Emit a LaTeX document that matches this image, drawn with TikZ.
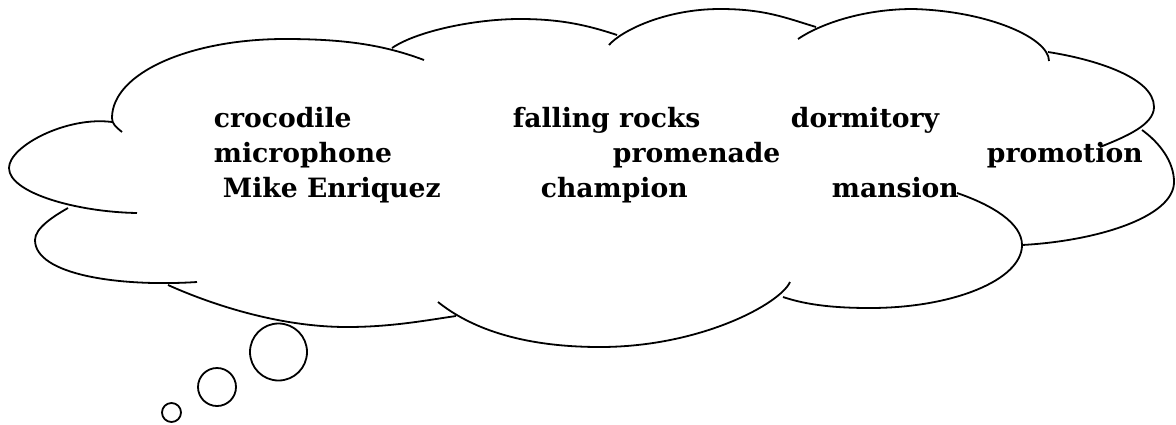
\documentclass[tikz,border=0pt]{standalone}
\usepackage{fontspec}
\setmainfont{DejaVu Serif}
\begin{document}
\begin{tikzpicture}[x=0.5pt, y=-0.5pt, line width=0.9pt]
	\tikzstyle{mot} = [anchor=base west, inner sep=0pt, font=\fontsize{13.3}{16}\selectfont\bfseries]
	\tikzstyle{bulle} = [draw, circle, inner sep=0pt]
	\useasboundingbox (0,0) rectangle (1176,424);
	% nuage, lobe par lobe (sens horaire depuis la gauche)
	\draw (122,132) .. controls (116,127) and (112,124) .. (112,118)
		.. controls (112,73) and (190,39) .. (285,39)
		.. controls (345,39) and (384,45) .. (424,60);
	\draw (392,48) .. controls (417,31) and (475,19) .. (520,19)
		.. controls (560,19) and (587,25) .. (617,35);
	\draw (609,45) .. controls (621,31) and (665,9) .. (720,9)
		.. controls (765,9) and (786,18) .. (816,27);
	\draw (798,39) .. controls (820,24) and (863,9) .. (913,9)
		.. controls (988,11) and (1049,38) .. (1049,61);
	\draw (1048,52) .. controls (1093,59) and (1154,77) .. (1154,107)
		.. controls (1154,125) and (1125,137) .. (1100,147);
	\draw (1142,130) .. controls (1160,143) and (1174,162) .. (1174,182)
		.. controls (1174,217) and (1097,241) .. (1022,245);
	\draw (957,193) .. controls (992,205) and (1022,223) .. (1022,245)
		.. controls (1022,280) and (953,308) .. (870,308)
		.. controls (825,308) and (801,303) .. (783,297);
	\draw (790,282) .. controls (780,304) and (700,347) .. (600,347)
		.. controls (510,347) and (463,322) .. (438,302);
	\draw (456,316) .. controls (428,320) and (392,327) .. (347,327)
		.. controls (277,327) and (208,303) .. (168,285);
	\draw (197,282) .. controls (120,287) and (35,275) .. (35,240)
		.. controls (35,228) and (54,216) .. (68,208);
	\draw (137,213) .. controls (77,212) and (9,193) .. (9,168)
		.. controls (9,146) and (67,116) .. (112,122);
	% bulles
	\node[bulle, minimum size=28.5pt] (b1) at (278.5,352) {};
	\node[bulle, minimum size=19pt] (b2) at (217,387) {};
	\node[bulle, minimum size=9.5pt] (b3) at (171.5,412.5) {};
	% mots
	\node[mot] (croc) at (213,127) {crocodile};
	\node[mot] (chute) at (512,127) {falling rocks};
	\node[mot] (dortoir) at (790,127) {dormitory};
	\node[mot] (micro) at (213,162) {microphone};
	\node[mot] (prom) at (612,162) {promenade};
	\node[mot] (promo) at (986,162) {promotion};
	\node[mot] (mike) at (222,197) {Mike Enriquez};
	\node[mot] (champ) at (540,197) {champion};
	\node[mot] (manoir) at (831,197) {mansion};
\end{tikzpicture}
\end{document}
